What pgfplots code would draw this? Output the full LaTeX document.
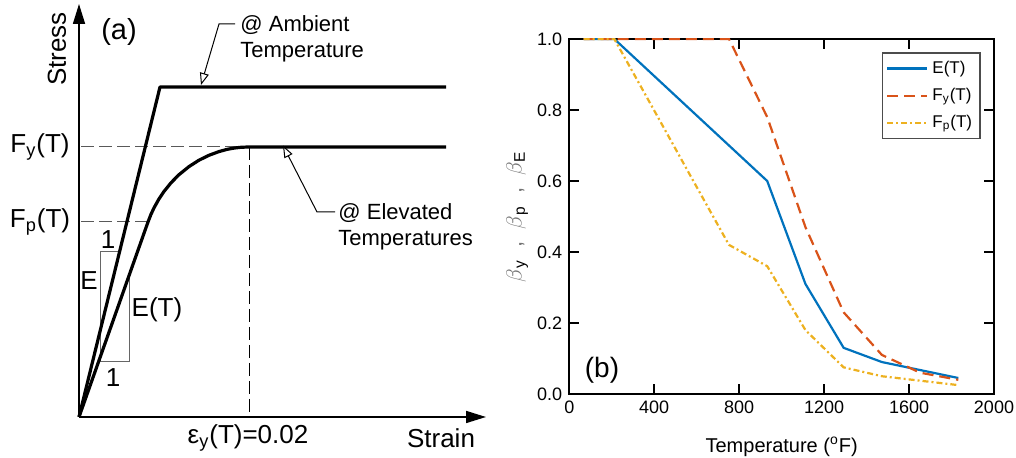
\documentclass[border=0pt]{standalone}
\usepackage{fontspec}
\setmainfont{Liberation Sans}
\usepackage{amsmath}
\usepackage{pgfplots}
\pgfplotsset{compat=1.18}
\usetikzlibrary{arrows.meta}
\definecolor{mblue}{RGB}{0,114,189}
\definecolor{morange}{RGB}{217,83,25}
\definecolor{myellow}{RGB}{237,177,32}
\begin{document}
\begin{tikzpicture}
\useasboundingbox (0,0) rectangle (508pt,229pt);
% ---------------- (a) schematic ----------------
\begin{axis}[at={(0pt,0pt)}, anchor=south west, scale only axis,
  width=250pt, height=229pt, xmin=0, xmax=500, ymin=0, ymax=458,
  hide axis, clip=false]
\addplot[black, line width=0.8pt, -{Triangle[length=10pt,width=6pt]}] coordinates {(79,41) (79,454)};
\addplot[black, line width=0.8pt, -{Triangle[length=10pt,width=6pt]}] coordinates {(79,41) (486,41)};
\addplot[black!65, line width=0.5pt, dash pattern=on 6.5pt off 2.5pt] coordinates {(81,311) (249,311)};
\addplot[black!65, line width=0.5pt, dash pattern=on 6.5pt off 2.5pt] coordinates {(81,236) (148,236)};
\addplot[black, line width=0.5pt, dash pattern=on 6.5pt off 2.5pt] coordinates {(249,311) (249,41)};
\addplot[black!60, line width=0.5pt] coordinates {(119.5,206) (100.7,206) (100.7,96) (129,96) (129,182)};
\addplot[black, line width=1.6pt, line join=round] coordinates {(79,41) (160,371) (446,371)};
\addplot[black, line width=1.6pt, line join=round] coordinates {(79,41) (148,236) (151,243.7) (154,250.1) (159,259.1) (164,266.5) (171,275.2) (179,283.3) (189,291.4) (199,297.8) (209,302.7) (219,306.4) (227,308.6) (234,309.9) (241,310.7) (249,311) (446,311)};
\node[font=\fontsize{14.5}{16}\selectfont] at (axis cs:119,426) {(a)};
\node[font=\fontsize{13}{15}\selectfont, rotate=90] at (axis cs:57,409) {Stress};
\node[font=\fontsize{13}{15}\selectfont] at (axis cs:441,20) {Strain};
\node[font=\fontsize{13}{15}\selectfont] at (axis cs:248,20) {ε\textsubscript{y}(T)=0.02};
\node[font=\fontsize{13}{15}\selectfont] at (axis cs:40,311) {F\textsubscript{y}(T)};
\node[font=\fontsize{13}{15}\selectfont] at (axis cs:40,236) {F\textsubscript{p}(T)};
\node[font=\fontsize{13}{15}\selectfont] at (axis cs:108,218) {1};
\node[font=\fontsize{13}{15}\selectfont] at (axis cs:89,177) {E};
\node[font=\fontsize{13}{15}\selectfont] at (axis cs:157,148) {E(T)};
\node[font=\fontsize{13}{15}\selectfont] at (axis cs:113,80) {1};
\node[font=\fontsize{11}{13}\selectfont, anchor=west, inner sep=0pt] at (axis cs:240,433) {@ Ambient};
\node[font=\fontsize{11}{13}\selectfont, anchor=west, inner sep=0pt] at (axis cs:240,406) {Temperature};
\node[font=\fontsize{11}{13}\selectfont, anchor=west, inner sep=0pt] at (axis cs:338,245) {@ Elevated};
\node[font=\fontsize{11}{13}\selectfont, anchor=west, inner sep=0pt] at (axis cs:338,218) {Temperatures};
\draw[line width=0.5pt, -{Triangle[fill=white,length=6pt,width=4.5pt]}] (axis cs:235,434) -- (axis cs:219,434) -- (axis cs:201,373);
\draw[line width=0.5pt, -{Triangle[fill=white,length=6pt,width=4.5pt]}] (axis cs:335,246) -- (axis cs:317,246) -- (axis cs:283,312.5);
\end{axis}
% ---------------- (b) data ----------------
\begin{axis}[at={(284.65pt,32pt)}, anchor=south west, scale only axis,
  width=212.35pt, height=177.5pt,
  xmin=0, xmax=2000, ymin=0, ymax=1,
  xtick={0,400,...,2000}, ytick={0,0.2,0.4,0.6,0.8,1.0},
  tick align=inside, major tick length=5pt,
  axis line style={line width=1pt}, every tick/.style={black, line width=1pt},
  /pgf/number format/assume math mode=true,
  ticklabel style={font=\fontsize{9}{10}\selectfont},
  yticklabel style={/pgf/number format/fixed, /pgf/number format/fixed zerofill, /pgf/number format/precision=1},
  xticklabel style={/pgf/number format/1000 sep={}},
  xlabel={Temperature (\textsuperscript{o}F)},
  xlabel style={at={(axis description cs:0.5,-0.149)}, anchor=center, font=\fontsize{10}{12}\selectfont},
  ylabel={{\color{black!55}$\beta$}\textsubscript{y}{\color{black!55}\ \ ,\ \ }{\color{black!55}$\beta$}\textsubscript{p}{\color{black!55}\ \ ,\ \ }{\color{black!55}$\beta$}\textsubscript{E}},
  ylabel style={at={(axis description cs:-0.1224,0.5)}, anchor=center, font=\fontsize{11}{13}\selectfont},
  legend style={at={(0.969,0.963)}, anchor=north east, draw=black!70, line width=0.7pt,
    font=\fontsize{8.5}{10}\selectfont, inner sep=2pt, row sep=2pt, cells={anchor=west}},
  legend image code/.code={\draw[#1] (0pt,0pt) -- (20pt,0pt);},
]
\addplot[mblue, line width=1.1pt] coordinates {(68,1) (212,1) (392,0.9) (572,0.8) (752,0.7) (932,0.6) (1112,0.31) (1292,0.13) (1472,0.09) (1652,0.0675) (1832,0.045)};
\addlegendentry{E(T)}
\addplot[morange, line width=1.1pt, dash pattern=on 5.5pt off 3pt] coordinates {(68,1) (212,1) (392,1) (572,1) (752,1) (932,0.78) (1112,0.47) (1292,0.23) (1472,0.11) (1652,0.06) (1832,0.04)};
\addlegendentry{F\textsubscript{y}(T)}
\addplot[myellow, line width=1.1pt, dash pattern=on 3pt off 1.5pt on 1pt off 1.5pt] coordinates {(68,1) (212,1) (392,0.807) (572,0.613) (752,0.42) (932,0.36) (1112,0.18) (1292,0.075) (1472,0.05) (1652,0.0375) (1832,0.025)};
\addlegendentry{F\textsubscript{p}(T)}
\node[font=\fontsize{14}{16}\selectfont] at (axis cs:154,0.068) {(b)};
\end{axis}
\end{tikzpicture}
\end{document}
